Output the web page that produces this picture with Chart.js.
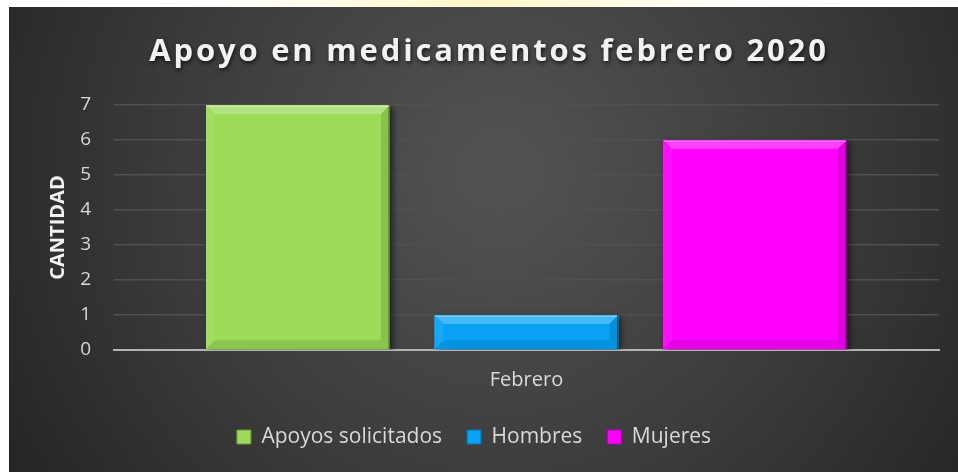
<!DOCTYPE html>
<html>
<head>
<meta charset="utf-8">
<script src="https://cdn.jsdelivr.net/npm/chart.js@4/dist/chart.umd.min.js"></script>
<style>
  html, body { margin: 0; padding: 0; background: #ffffff; }
  #wrap { width: 958px; height: 472px; }
</style>
</head>
<body>
<div id="wrap"><canvas id="c" width="958" height="472"></canvas></div>
<script>
const chartTitle = "Apoyo en medicamentos febrero 2020";
const categories = ["Febrero"];
const seriesNames = ["Apoyos solicitados", "Hombres", "Mujeres"];
const apoyosSolicitados = [7];
const hombres = [1];
const mujeres = [6];
const yTicks = [0, 1, 2, 3, 4, 5, 6, 7];
const yAxisTitle = "CANTIDAD";

const colors = ["#9bdb57", "#07a2f5", "#ff00ff"];
const FONT = "'Open Sans', 'DejaVu Sans', sans-serif";

function shade(hex, amt) {
  const n = parseInt(hex.slice(1), 16);
  let r = (n >> 16) & 255, g = (n >> 8) & 255, b = n & 255;
  if (amt >= 0) { r += (255 - r) * amt; g += (255 - g) * amt; b += (255 - b) * amt; }
  else { r *= (1 + amt); g *= (1 + amt); b *= (1 + amt); }
  return `rgb(${Math.round(r)},${Math.round(g)},${Math.round(b)})`;
}

const bgPlugin = {
  id: 'panelBg',
  beforeDraw(chart) {
    const ctx = chart.ctx, W = chart.width, H = chart.height;
    ctx.save();
    ctx.fillStyle = '#ffffff';
    ctx.fillRect(0, 0, W, H);
    const wg = ctx.createRadialGradient(480, 0, 10, 480, 0, 260);
    wg.addColorStop(0, 'rgba(255,240,140,0.45)');
    wg.addColorStop(1, 'rgba(255,240,140,0)');
    ctx.fillStyle = wg;
    ctx.fillRect(0, 0, W, 8);
    const g = ctx.createRadialGradient(500, 170, 20, 500, 170, 560);
    g.addColorStop(0, '#525252');
    g.addColorStop(0.55, '#3c3c3c');
    g.addColorStop(1, '#262626');
    ctx.fillStyle = g;
    ctx.fillRect(9, 7, W - 9, H - 7);
    ctx.restore();
  },
  afterDraw(chart) {
    const ctx = chart.ctx;
    ctx.save();
    ctx.font = `bold 31px ${FONT}`;
    ctx.letterSpacing = '2.8px';
    ctx.textAlign = 'center';
    ctx.textBaseline = 'middle';
    ctx.shadowColor = 'rgba(0,0,0,0.7)';
    ctx.shadowBlur = 4;
    ctx.shadowOffsetX = 1;
    ctx.shadowOffsetY = 2;
    ctx.fillStyle = '#f2f2f2';
    ctx.fillText(chartTitle, 489, 52);
    ctx.restore();
  }
};

const bevelPlugin = {
  id: 'bevel',
  beforeDatasetsDraw(chart) {
    const ctx = chart.ctx;
    ctx.save();
    ctx.shadowColor = 'rgba(0,0,0,0.55)';
    ctx.shadowBlur = 6;
    ctx.shadowOffsetX = 3;
    ctx.shadowOffsetY = 2;
  },
  afterDatasetsDraw(chart) {
    const ctx = chart.ctx;
    ctx.restore();
    ctx.save();
    chart.data.datasets.forEach((ds, i) => {
      const meta = chart.getDatasetMeta(i);
      meta.data.forEach(bar => {
        const p = bar.getProps(['x', 'y', 'base', 'width'], true);
        const l = p.x - p.width / 2, r = p.x + p.width / 2, t = p.y, b = p.base;
        const h = b - t;
        const d = Math.min(9, h / 2 - 1);
        const base = colors[i];
        ctx.fillStyle = shade(base, 0.25);
        ctx.beginPath(); ctx.moveTo(l, t); ctx.lineTo(r, t); ctx.lineTo(r - d, t + d); ctx.lineTo(l + d, t + d); ctx.closePath(); ctx.fill();
        ctx.fillStyle = shade(base, 0.06);
        ctx.beginPath(); ctx.moveTo(l, t); ctx.lineTo(l + d, t + d); ctx.lineTo(l + d, b - d); ctx.lineTo(l, b); ctx.closePath(); ctx.fill();
        ctx.fillStyle = shade(base, -0.12);
        ctx.beginPath(); ctx.moveTo(r, t); ctx.lineTo(r, b); ctx.lineTo(r - d, b - d); ctx.lineTo(r - d, t + d); ctx.closePath(); ctx.fill();
        ctx.fillStyle = shade(base, -0.1);
        ctx.beginPath(); ctx.moveTo(l, b); ctx.lineTo(r, b); ctx.lineTo(r - d, b - d); ctx.lineTo(l + d, b - d); ctx.closePath(); ctx.fill();
        ctx.strokeStyle = shade(base, -0.45);
        ctx.lineWidth = 1.5;
        ctx.beginPath(); ctx.moveTo(r - 0.75, t); ctx.lineTo(r - 0.75, b); ctx.stroke();
        ctx.strokeStyle = shade(base, 0.45);
        ctx.lineWidth = 1;
        ctx.beginPath(); ctx.moveTo(l + 1, t + 1.5); ctx.lineTo(r - 1, t + 1.5); ctx.stroke();
      });
    });
    ctx.restore();
  }
};

const datasetValues = [apoyosSolicitados, hombres, mujeres];

new Chart(document.getElementById('c'), {
  type: 'bar',
  data: {
    labels: categories,
    datasets: seriesNames.map((name, i) => ({
      label: name,
      data: datasetValues[i],
      backgroundColor: colors[i],
      borderWidth: 0,
      categoryPercentage: 0.831,
      barPercentage: 0.805
    }))
  },
  options: {
    responsive: false,
    animation: false,
    devicePixelRatio: 1,
    layout: { padding: { top: 105, left: 9, right: 19, bottom: 14.5 } },
    plugins: {
      title: { display: false },
      tooltip: { enabled: false },
      legend: {
        display: true,
        position: 'bottom',
        labels: {
          color: '#d9d9d9',
          font: { family: FONT, size: 21 },
          boxWidth: 14,
          boxHeight: 14,
          padding: 25,
          generateLabels(chart) {
            return chart.data.datasets.map((ds, i) => ({
              text: ds.label,
              fillStyle: colors[i],
              strokeStyle: shade(colors[i], -0.3),
              lineWidth: 1,
              fontColor: '#d9d9d9',
              datasetIndex: i,
              hidden: false
            }));
          }
        }
      }
    },
    scales: {
      x: {
        grid: { display: false, drawTicks: false },
        border: { display: true, color: '#b4b4b4', width: 2 },
        ticks: { color: '#d9d9d9', font: { family: FONT, size: 20 }, padding: 18 },
        afterFit(scale) { scale.height = 51.5; }
      },
      y: {
        min: 0,
        max: 7,
        afterBuildTicks(scale) { scale.ticks = yTicks.map(v => ({ value: v })); },
        grid: { color: '#505050', lineWidth: 1.5, drawTicks: false },
        border: { display: false },
        ticks: { color: '#d9d9d9', font: { family: FONT, size: 19 }, padding: 23 },
        title: {
          display: true,
          text: yAxisTitle,
          color: '#f2f2f2',
          font: { family: FONT, size: 20, weight: 'bold' },
          padding: { top: 37, bottom: 0 }
        },
        afterFit(scale) { scale.width = 105; }
      }
    }
  },
  plugins: [bgPlugin, bevelPlugin]
});
</script>
</body>
</html>
